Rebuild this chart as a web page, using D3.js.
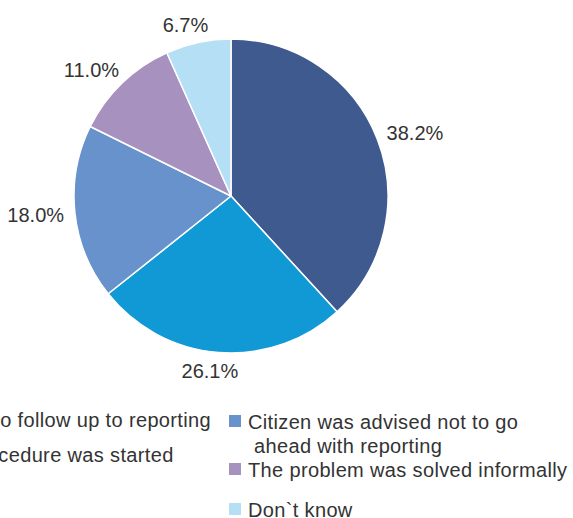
<!DOCTYPE html>
<html>
<head>
<meta charset="utf-8">
<script src="https://cdn.jsdelivr.net/npm/d3@7"></script>
<style>
  html, body { margin: 0; padding: 0; background: #fff; overflow: hidden; }
  svg { display: block; }
  text { font-family: "Liberation Sans", Arial, sans-serif; fill: #333; }
</style>
</head>
<body>
<svg id="chart" width="573" height="518"></svg>
<script>
// ---- data ----
const categories = [
  "There was no follow up to reporting",
  "Criminal procedure was started",
  "Citizen was advised not to go ahead with reporting",
  "The problem was solved informally",
  "Don`t know"
];
const values = [38.2, 26.1, 18.0, 11.0, 6.7];
const labels = ["38.2%", "26.1%", "18.0%", "11.0%", "6.7%"];
const legendLines = [
  ["There was no follow up to reporting"],
  ["Criminal procedure was started"],
  ["Citizen was advised not to go", " ahead with reporting"],
  ["The problem was solved informally"],
  ["Don`t know"]
];
const colors = ["#3f5a8f", "#1199d6", "#6892cb", "#a791bf", "#b5dff4"];

// ---- layout ----
const W = 573, H = 518;
const cx = 231, cy = 196, R = 157;
const svg = d3.select("#chart");

const color = d3.scaleOrdinal().domain(categories).range(colors);
const pie = d3.pie().sort(null).value(d => d.value);
const arcs = pie(categories.map((c, i) => ({ cat: c, value: values[i], label: labels[i] })));
const arc = d3.arc().innerRadius(0).outerRadius(R);

const g = svg.append("g").attr("transform", `translate(${cx},${cy})`);
g.selectAll("path").data(arcs).join("path")
  .attr("d", arc)
  .attr("fill", d => color(d.data.cat))
  .attr("stroke", "#fff")
  .attr("stroke-width", 1.5)
  .attr("stroke-linejoin", "round");

// data labels (outside end)
const labelFont = 20;
const anchorR = R + 11;
g.selectAll("text.lbl").data(arcs).join("text")
  .attr("class", "lbl")
  .attr("font-size", labelFont)
  .attr("text-anchor", "middle")
  .text(d => d.data.label)
  .each(function(d) {
    const a = (d.startAngle + d.endAngle) / 2;
    const s = Math.sin(a), c = Math.cos(a);
    const w = this.getComputedTextLength();
    const h = labelFont * 0.75;
    const px = anchorR * s, py = -anchorR * c;
    const bx = px + Math.sign(s) * Math.sqrt(Math.abs(s)) * w / 2;
    const by = py - c * h / 2;
    d3.select(this).attr("x", bx).attr("y", by + labelFont * 0.36);
  });

// legend
const legFont = 20;
const sq = 12;
// column / row placement (layout, not data)
const legendPos = [
  { col: 0, base: 427 },
  { col: 0, base: 462 },
  { col: 1, base: 429, lineGap: 24 },
  { col: 1, base: 477 },
  { col: 1, base: 517 }
];
const rightTextX = 248;
const leftEndX = 211;

const leg = svg.append("g");
// measure left column start so first entry ends at leftEndX
const tmp = leg.append("text").attr("font-size", legFont).attr("letter-spacing", 0.35)
  .text(legendLines[0][0]);
const leftTextX = leftEndX - tmp.node().getComputedTextLength();
tmp.remove();

legendLines.forEach((lines, i) => {
  const p = legendPos[i];
  const tx = p.col === 0 ? leftTextX : rightTextX;
  leg.append("rect")
    .attr("x", tx - 19)
    .attr("y", p.base - 14)
    .attr("width", sq).attr("height", sq)
    .attr("fill", color(categories[i]));
  const t = leg.append("text")
    .attr("font-size", legFont)
    .attr("letter-spacing", 0.35)
    .attr("x", tx).attr("y", p.base);
  lines.forEach((ln, j) => {
    t.append("tspan")
      .attr("x", tx + (j > 0 ? 6 : 0))
      .attr("y", p.base + j * (p.lineGap || 24))
      .text(ln.trim());
  });
});
</script>
</body>
</html>
